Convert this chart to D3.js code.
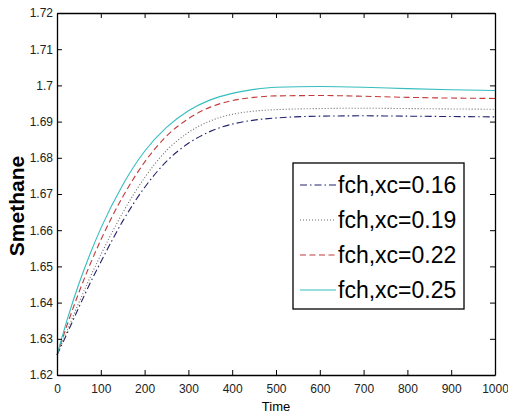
<!DOCTYPE html>
<html lang="en">
<head>
    <meta charset="UTF-8">
    <title>Smethane vs Time</title>
    <script src="https://d3js.org/d3.v7.min.js"></script>
    <style>
        body { margin: 0; background: #fff; }
        .tick-label { font: 12px "Liberation Sans", Arial, sans-serif; fill: #222; }
        .legend text { font: 23px "Liberation Sans", Arial, sans-serif; fill: #000; }
        .series { fill: none; stroke-width: 1.1px; }
    </style>
</head>
<body>
    <svg width="508" height="417"></svg>

    <script>
        // time samples
        const time = [0, 25, 50, 75, 100, 150, 200, 250, 300, 350, 400, 450, 500, 600, 700, 800, 900, 1000];

        // Smethane for each fch,xc
        const s016 = [1.6255, 1.6320, 1.6387, 1.6452, 1.6512, 1.6625, 1.6718, 1.6790, 1.6840, 1.6873, 1.6893, 1.6904, 1.6910, 1.6915, 1.6916, 1.6915, 1.6914, 1.6913];
        const s019 = [1.6255, 1.6328, 1.6400, 1.6468, 1.6532, 1.6648, 1.6745, 1.6820, 1.6870, 1.6902, 1.6920, 1.6929, 1.6933, 1.6936, 1.6937, 1.6936, 1.6935, 1.6934];
        const s022 = [1.6255, 1.6345, 1.6428, 1.6504, 1.6573, 1.6692, 1.6788, 1.6860, 1.6908, 1.6940, 1.6958, 1.6967, 1.6971, 1.6972, 1.6970, 1.6967, 1.6965, 1.6964];
        const s025 = [1.6255, 1.6360, 1.6452, 1.6533, 1.6605, 1.6725, 1.6818, 1.6884, 1.6930, 1.6960, 1.6978, 1.6989, 1.6995, 1.6997, 1.6995, 1.6991, 1.6988, 1.6986];

        const legendLabels = ["fch,xc=0.16", "fch,xc=0.19", "fch,xc=0.22", "fch,xc=0.25"];
        const xTicks = [0, 100, 200, 300, 400, 500, 600, 700, 800, 900, 1000];
        const yTicks = [1.62, 1.63, 1.64, 1.65, 1.66, 1.67, 1.68, 1.69, 1.70, 1.71, 1.72];

        const series = [
            { name: legendLabels[0], values: s016, color: "#22226e", dash: "7,3,1.5,3" },
            { name: legendLabels[1], values: s019, color: "#6a6a6a", dash: "1,2" },
            { name: legendLabels[2], values: s022, color: "#c23a3a", dash: "6,3.5" },
            { name: legendLabels[3], values: s025, color: "#35bdc0", dash: null }
        ];

        const plotL = 57, plotR = 495, plotT = 13, plotB = 375;
        const svg = d3.select("svg");

        const x = d3.scaleLinear().domain([0, 1000]).range([plotL, plotR]);
        const y = d3.scaleLinear().domain([1.62, 1.72]).range([plotB, plotT]);

        // lines
        const line = d3.line()
            .x((d, i) => x(time[i]))
            .y(d => y(d))
            .curve(d3.curveMonotoneX);

        svg.selectAll(".series")
            .data(series)
            .enter()
            .append("path")
            .attr("class", "series")
            .attr("stroke", d => d.color)
            .attr("stroke-dasharray", d => d.dash)
            .attr("d", d => line(d.values));

        // axes box, ticks point inward
        const tickLen = 5;
        const axisBottom = d3.axisBottom(x).tickValues(xTicks).tickSizeInner(-tickLen).tickSizeOuter(0).tickFormat(d3.format("d"));
        const axisTop = d3.axisTop(x).tickValues(xTicks).tickSizeInner(-tickLen).tickSizeOuter(0).tickFormat("");
        const axisLeft = d3.axisLeft(y).tickValues(yTicks).tickSizeInner(-tickLen).tickSizeOuter(0).tickFormat(d => d3.format(".2f")(d).replace(/0$/, ""));
        const axisRight = d3.axisRight(y).tickValues(yTicks).tickSizeInner(-tickLen).tickSizeOuter(0).tickFormat("");

        function styleAxis(g) {
            g.select(".domain").attr("stroke", "#000").attr("stroke-width", 1.3);
            g.selectAll(".tick line").attr("stroke", "#000");
            g.selectAll(".tick text").attr("class", "tick-label");
        }

        svg.append("g").attr("transform", `translate(0,${plotB})`).call(axisBottom).call(styleAxis)
            .selectAll(".tick text").attr("dy", "0").attr("y", 18);
        svg.append("g").attr("transform", `translate(0,${plotT})`).call(axisTop).call(styleAxis);
        svg.append("g").attr("transform", `translate(${plotL},0)`).call(axisLeft).call(styleAxis)
            .selectAll(".tick text").attr("x", -4);
        svg.append("g").attr("transform", `translate(${plotR},0)`).call(axisRight).call(styleAxis);

        // axis titles
        svg.append("text")
            .attr("x", (plotL + plotR) / 2)
            .attr("y", 411)
            .attr("text-anchor", "middle")
            .style("font", "13px 'Liberation Sans', Arial, sans-serif")
            .text("Time");

        svg.append("text")
            .attr("transform", `translate(24,${(plotT + plotB) / 2 + 12}) rotate(-90)`)
            .attr("text-anchor", "middle")
            .style("font", "bold 21px 'Liberation Sans', Arial, sans-serif")
            .text("Smethane");

        // legend
        const legend = svg.append("g").attr("class", "legend");
        legend.append("rect")
            .attr("x", 293).attr("y", 163)
            .attr("width", 171).attr("height", 146)
            .attr("fill", "#fff").attr("stroke", "#000").attr("stroke-width", 1.3);

        const entry = legend.selectAll(".entry")
            .data(series)
            .enter()
            .append("g")
            .attr("class", "entry")
            .attr("transform", (d, i) => `translate(0,${185 + i * 35})`);

        entry.append("line")
            .attr("x1", 300).attr("x2", 336)
            .attr("stroke", d => d.color)
            .attr("stroke-width", 1.1)
            .attr("stroke-dasharray", d => d.dash);

        entry.append("text")
            .attr("x", 338)
            .attr("dy", "0.36em")
            .text(d => d.name);
    </script>
</body>
</html>
